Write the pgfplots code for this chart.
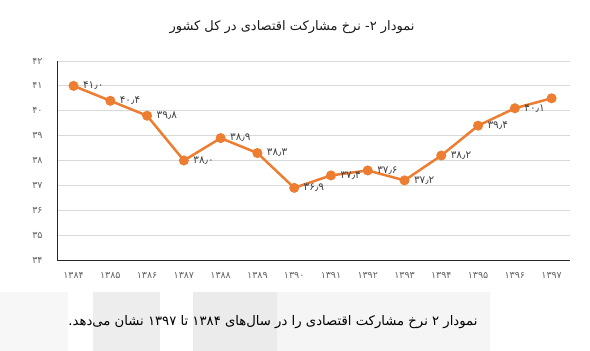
\documentclass[border=0pt]{standalone}
\usepackage{pgfplots}
\pgfplotsset{compat=1.18}
\usepackage{fontspec}
\setmainfont{DejaVu Sans}
\newfontfamily\arabicfont[Script=Arabic]{DejaVu Sans}
\TeXXeTstate=1
\definecolor{orng}{RGB}{237,125,49}
\definecolor{gridc}{RGB}{217,217,217}
\definecolor{tickc}{RGB}{100,100,100}
\definecolor{lblc}{RGB}{64,64,64}
\begin{document}
\begin{tikzpicture}
\useasboundingbox (0,0) rectangle (590pt,351pt);
\fill[black!3] (0pt,0pt) rectangle (68pt,59pt);
\fill[black!7] (93pt,0pt) rectangle (160pt,59pt);
\fill[black!8] (193pt,0pt) rectangle (277pt,59pt);
\fill[black!4] (277pt,0pt) rectangle (490pt,59pt);
\begin{axis}[
  at={(57pt,91pt)}, anchor=south west,
  scale only axis, width=513pt, height=199pt,
  xmin=-0.45, xmax=13.5, ymin=34, ymax=42,
  axis lines*=left,
  axis line style={black!85, line width=0.9pt},
  major tick length=0pt,
  ytick={34,35,36,37,38,39,40,41,42},
  yticklabels={۳۴,۳۵,۳۶,۳۷,۳۸,۳۹,۴۰,۴۱,۴۲},
  xtick={0,1,2,3,4,5,6,7,8,9,10,11,12,13},
  xticklabels={۱۳۸۴,۱۳۸۵,۱۳۸۶,۱۳۸۷,۱۳۸۸,۱۳۸۹,۱۳۹۰,۱۳۹۱,۱۳۹۲,۱۳۹۳,۱۳۹۴,۱۳۹۵,۱۳۹۶,۱۳۹۷},
  ymajorgrids, major grid style={gridc, line width=0.9pt},
  yticklabel style={font=\arabicfont\fontsize{9.5}{11}\selectfont, text=tickc, xshift=-11pt},
  xticklabel style={font=\arabicfont\fontsize{9.5}{11}\selectfont, text=tickc, yshift=-9pt},
  clip=false,
]
\addplot[color=orng, line width=2.5pt, mark=*, mark size=3.7pt, mark options={solid, fill=orng, draw=none}]
coordinates {(0,41.0) (1,40.4) (2,39.8) (3,38.0) (4,38.9) (5,38.3) (6,36.9) (7,37.4) (8,37.6) (9,37.2) (10,38.2) (11,39.4) (12,40.1) (13,40.5)};
\addplot[draw=none, mark=none, point meta=explicit symbolic,
  nodes near coords={\pgfplotspointmeta},
  every node near coord/.append style={anchor=west, xshift=6pt, yshift=0pt, font=\arabicfont\fontsize{10.5}{12}\selectfont, text=lblc}]
coordinates {(0,41.0) [۴۱٫۰] (1,40.4) [۴۰٫۴] (2,39.8) [۳۹٫۸] (3,38.0) [۳۸٫۰] (4,38.9) [۳۸٫۹] (5,38.3) [۳۸٫۳] (6,36.9) [۳۶٫۹] (7,37.4) [۳۷٫۴] (8,37.6) [۳۷٫۶] (9,37.2) [۳۷٫۲] (10,38.2) [۳۸٫۲] (11,39.4) [۳۹٫۴] (12,40.1) [۴۰٫۱]};
\end{axis}
\node[font=\arabicfont\fontsize{13}{15}\selectfont, text=black!90] at (292pt,324pt) {\beginR نمودار ۲- نرخ مشارکت اقتصادی در کل کشور\endR};
\node[anchor=east, font=\arabicfont\fontsize{13.2}{16}\selectfont, text=black] at (481pt,29pt) {\beginR نمودار ۲ نرخ مشارکت اقتصادی را در سال‌های ۱۳۸۴ تا ۱۳۹۷ نشان می‌دهد.\endR};
\end{tikzpicture}
\end{document}
